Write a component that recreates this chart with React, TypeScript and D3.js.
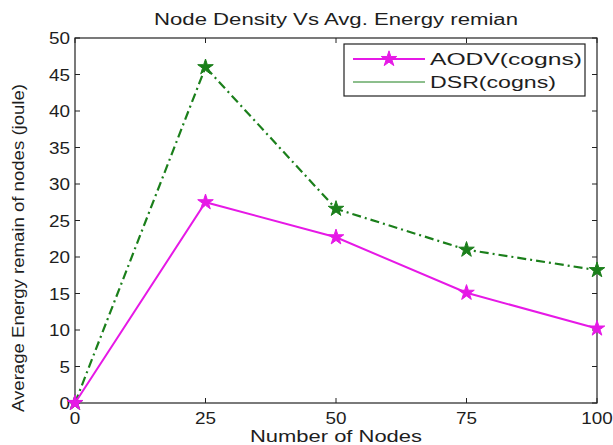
import React from "react";
import * as d3 from "d3";

const nodes = [0, 25, 50, 75, 100];
const aodv = [0, 27.5, 22.7, 15.1, 10.2];
const dsr = [0, 46, 26.6, 21, 18.2];
const xTicks = [0, 25, 50, 75, 100];
const yTicks = [0, 5, 10, 15, 20, 25, 30, 35, 40, 45, 50];
const seriesNames = ["AODV(cogns)", "DSR(cogns)"];

const W = 613, H = 445;
const L = 75, R = 597, T = 38, B = 403;
const FONT = "'Liberation Sans', Arial, sans-serif";
const MAG = "#e619e6";
const GRN = "#1b7f1b";
const TXT = "#1e1e1e";

function T2(props: any) {
  const { w, children, ...rest } = props;
  return (
    <text {...rest} textLength={w} lengthAdjust="spacingAndGlyphs" fill={TXT}>
      {children}
    </text>
  );
}

export default function App() {
  const x = d3.scaleLinear().domain([0, 100]).range([L, R]);
  const y = d3.scaleLinear().domain([0, 50]).range([B, T]);
  const line = d3.line<number>().x((_, i) => x(nodes[i])).y((d) => y(d));
  const star = d3.symbol().type(d3.symbolStar).size(75)() as string;
  const tk = 5;
  const dw = 10.5;
  return (
    <svg width={W} height={H} style={{ position: "absolute", left: 0, top: 0, background: "#fff" }} fontFamily={FONT}>
      <rect width={W} height={H} fill="#fff" />
      <T2 x={336} y={25} textAnchor="middle" fontSize={16} w={364}>Node Density Vs Avg. Energy remian</T2>
      {xTicks.map((t) => (
        <g key={"x" + t}>
          <line x1={x(t)} x2={x(t)} y1={B} y2={B - tk} stroke="#222" />
          <line x1={x(t)} x2={x(t)} y1={T} y2={T + tk} stroke="#222" />
          <T2 x={x(t)} y={B + 21} textAnchor="middle" fontSize={16} w={String(t).length * dw}>{t}</T2>
        </g>
      ))}
      {yTicks.map((t) => (
        <g key={"y" + t}>
          <line x1={L} x2={L + tk} y1={y(t)} y2={y(t)} stroke="#222" />
          <line x1={R} x2={R - tk} y1={y(t)} y2={y(t)} stroke="#222" />
          <T2 x={L - 5} y={y(t) + 6} textAnchor="end" fontSize={16} w={String(t).length * dw}>{t}</T2>
        </g>
      ))}
      <rect x={L} y={T} width={R - L} height={B - T} fill="none" stroke="#222" strokeWidth={1.2} />
      <T2 x={336} y={442} textAnchor="middle" fontSize={16} w={172}>Number of Nodes</T2>
      <T2 transform={`translate(24,${248}) rotate(-90)`} textAnchor="middle" fontSize={16} w={328}>Average Energy remain of nodes (joule)</T2>
      <path d={line(dsr) || ""} fill="none" stroke={GRN} strokeWidth={2.2} strokeDasharray="9,4,2,4" />
      <path d={line(aodv) || ""} fill="none" stroke={MAG} strokeWidth={2} />
      {dsr.map((v, i) => (
        <path key={"d" + i} d={star} transform={`translate(${x(nodes[i])},${y(v)})`} fill={GRN} stroke={GRN} />
      ))}
      {aodv.map((v, i) => (
        <path key={"a" + i} d={star} transform={`translate(${x(nodes[i])},${y(v)})`} fill={MAG} stroke={MAG} />
      ))}
      <rect x={344} y={44} width={241} height={52} fill="#fff" stroke="#222" strokeWidth={1.2} />
      <line x1={353} x2={425} y1={59} y2={59} stroke={MAG} strokeWidth={2} />
      <path d={star} transform="translate(389,59)" fill={MAG} stroke={MAG} />
      <T2 x={430} y={65} fontSize={16} w={152}>{seriesNames[0]}</T2>
      <line x1={353} x2={425} y1={82} y2={82} stroke={GRN} strokeWidth={1} />
      <T2 x={430} y={88} fontSize={16} w={126}>{seriesNames[1]}</T2>
    </svg>
  );
}
